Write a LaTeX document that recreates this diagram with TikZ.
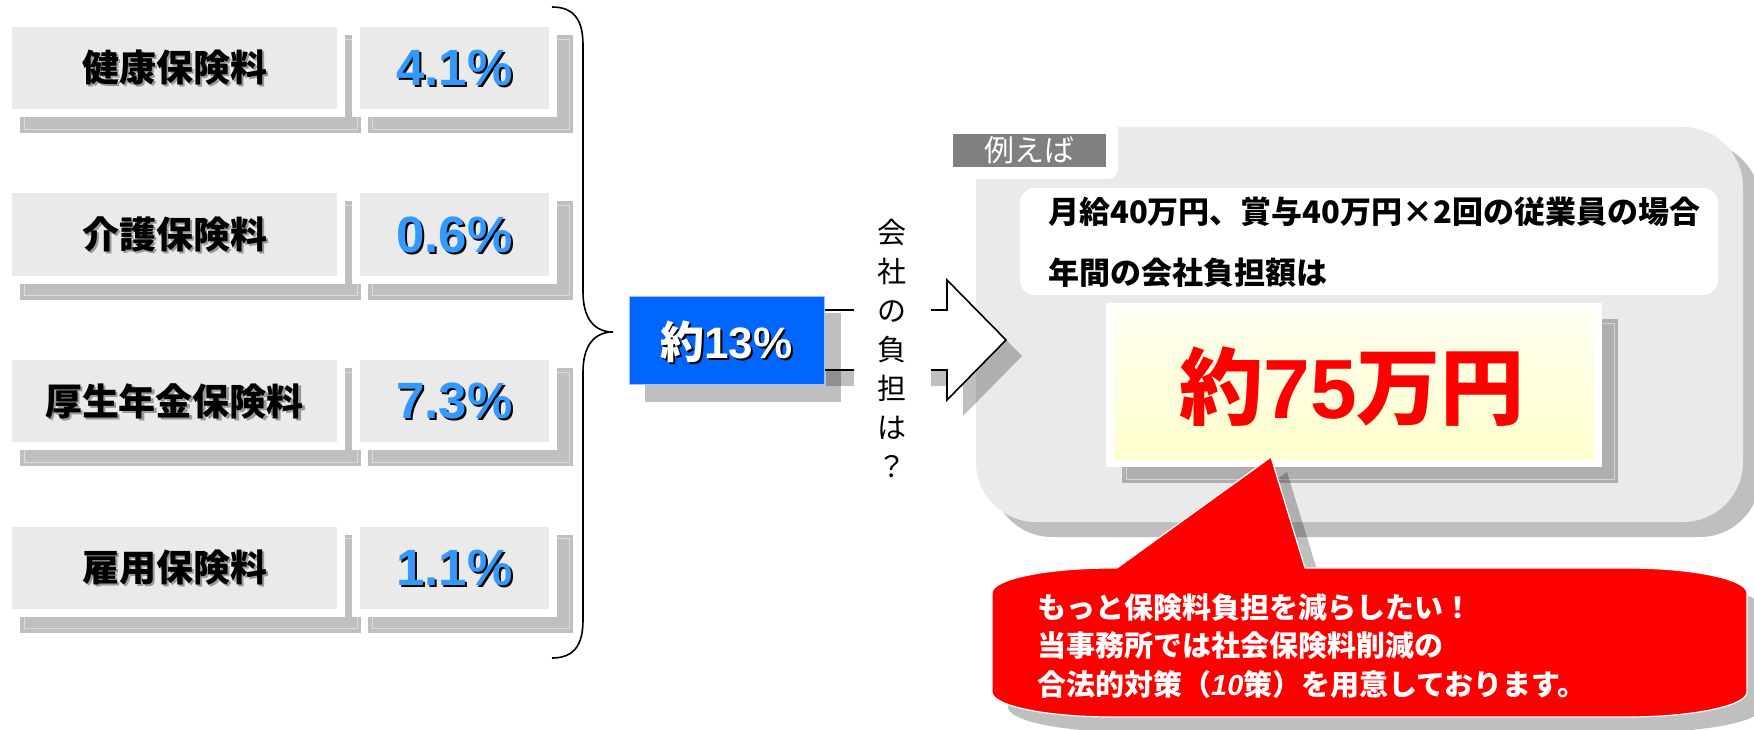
\documentclass[tikz,border=0pt]{standalone}
\usepackage{fontspec}
\setmainfont{Liberation Sans}
\newfontfamily\jp{Noto Sans CJK JP}
\usetikzlibrary{calc}

\definecolor{cardgray}{HTML}{EAEAEA}
\definecolor{pctblue}{HTML}{3399FF}
\definecolor{sumblue}{HTML}{0066FF}
\definecolor{tabgray}{HTML}{808080}
\definecolor{paleyellow}{HTML}{FFFFCC}

\newcommand{\drawcard}[4]{
	\fill[dropshade] (#1+8,#2+8) rectangle (#3+24,#4+24);
	\draw[shadeline] (#1+12,#2+12) rectangle (#3+20,#4+20);
	\fill[white] (#1-8,#2-8) rectangle (#3+8,#4+8);
	\fill[cardgray] (#1,#2) rectangle (#3,#4);
}
\newcommand{\calloutpath}{
	(992,692) -- (992,593) arc[start angle=180,end angle=270,x radius=120,y radius=25]
	-- (1117,568) -- (1271,457) -- (1305,568) -- (1627,568)
	arc[start angle=270,end angle=360,x radius=120,y radius=25] -- (1747,692)
	arc[start angle=0,end angle=90,x radius=120,y radius=25] -- (1112,717)
	arc[start angle=90,end angle=180,x radius=120,y radius=25] -- cycle
}

\begin{document}
\begin{tikzpicture}[x=1pt,y=-1pt,
	dropshade/.style={fill=black,fill opacity=.25},
	shadeline/.style={draw=white,draw opacity=.45,line width=.8pt},
	labtext/.style={font={\jp\bfseries\fontsize{37}{40}\selectfont},inner sep=0pt},
	pcttext/.style={font={\bfseries\fontsize{51}{55}\selectfont},inner sep=0pt},
	sumtext/.style={font={\bfseries\fontsize{44}{48}\selectfont},inner sep=0pt},
	coltext/.style={font={\jp\fontsize{29}{39}\selectfont},align=center,fill=white,inner xsep=24pt,inner ysep=4pt},
	paneltext/.style={font={\jp\bfseries\fontsize{31}{34}\selectfont},inner sep=0pt,anchor=west},
	calltext/.style={font={\jp\bfseries\fontsize{29}{38.5}\selectfont},text=white,align=left,inner sep=0pt,anchor=west},
	]
	\useasboundingbox (0,0) rectangle (1754,730);

	% premium rows
	\foreach \lab/\pct [count=\i from 0] in {健康保険料/4.1, 介護保険料/0.6, 厚生年金保険料/7.3, 雇用保険料/1.1} {
		\pgfmathsetmacro{\ytop}{27+166.5*\i}
		\pgfmathsetmacro{\ybot}{\ytop+82}
		\pgfmathsetmacro{\ymid}{\ytop+41}
		\drawcard{12}{\ytop}{337}{\ybot}
		\drawcard{360}{\ytop}{549}{\ybot}
		\node[labtext,text=black!40] at (176.5,\ymid+2) {\lab};
		\node[labtext] (lab\i) at (174.5,\ymid) {\lab};
		\node[pcttext,text=black] at (456.5,\ymid+2) {\pct\%};
		\node[pcttext,text=pctblue] (pct\i) at (454.5,\ymid) {\pct\%};
	}

	% brace
	\coordinate (bracetop) at (552,7);
	\coordinate (bracetip) at (613,332);
	\coordinate (bracebot) at (552,658);
	\draw[line width=1.6pt] (bracetop) .. controls (574,7) and (583,20) .. (583,45) -- (583,292)
		.. controls (583,318) and (594,332) .. (bracetip)
		.. controls (594,332) and (583,346) .. (583,372) -- (583,620)
		.. controls (583,645) and (574,658) .. (bracebot);

	% example panel
	\fill[dropshade,rounded corners=60] (992,142) rectangle (1760,537);
	\fill[cardgray,rounded corners=60] (976,127) rectangle (1743,522);
	\fill[white,rounded corners=10] (940,110) rectangle (1118,179);
	\node[fill=tabgray,text=white,font={\jp\fontsize{30}{32}\selectfont},minimum width=153pt,minimum height=33pt,inner sep=0pt] (tab) at (1029.5,150.5) {例えば};
	\fill[white,rounded corners=15] (1020,188) rectangle (1718,295);
	\node[paneltext] (case) at (1048,212) {月給40万円、賞与40万円×2回の従業員の場合};
	\node[paneltext] (annual) at (1048,273) {年間の会社負担額は};

	\fill[dropshade] (1122,319) rectangle (1618,483);
	\draw[shadeline] (1126,323) rectangle (1614,479);
	\fill[white] (1106,303) rectangle (1602,467);
	\shade[top color=white!70!paleyellow,bottom color=paleyellow] (1114,311) rectangle (1594,459);
	\draw[white,line width=1pt] (1119,316) rectangle (1589,454);
	\node[font={\bfseries\fontsize{84}{90}\selectfont},text=red,inner sep=0pt] (amount) at (1352,387) {{\jp 約}75{\jp 万円}};

	% arrow
	\fill[dropshade] (826,326) -- (963,326) -- (963,296) -- (1022,356) -- (963,416) -- (963,386) -- (826,386) -- cycle;
	\filldraw[fill=white,draw=black,line width=1.6pt] (810,310) -- (947,310) -- (947,280) -- (1006,340) -- (947,400) -- (947,370) -- (810,370) -- cycle;

	% total
	\fill[dropshade] (645,313) rectangle (841,402);
	\node[fill=sumblue,draw=white!60!sumblue,line width=.8pt,minimum width=195pt,minimum height=88pt] (total) at (726.5,340) {};
	\node[sumtext,text=black] at (728.5,344) {{\jp 約}13\%};
	\node[sumtext,text=white] (totaltxt) at (726.5,342) {{\jp 約}13\%};

	\node[coltext] (ask) at (892,348) {会\\社\\の\\負\\担\\は\\？};

	% callout
	\fill[dropshade,shift={(16,15)}] \calloutpath;
	\filldraw[fill=red,draw=white,line width=1.2pt] \calloutpath;
	\node[calltext] (offer) at (1037,646) {もっと保険料負担を減らしたい！\\当事務所では社会保険料削減の\\合法的対策（{\rmfamily\bfseries\itshape 10}策）を用意しております。};
\end{tikzpicture}
\end{document}
